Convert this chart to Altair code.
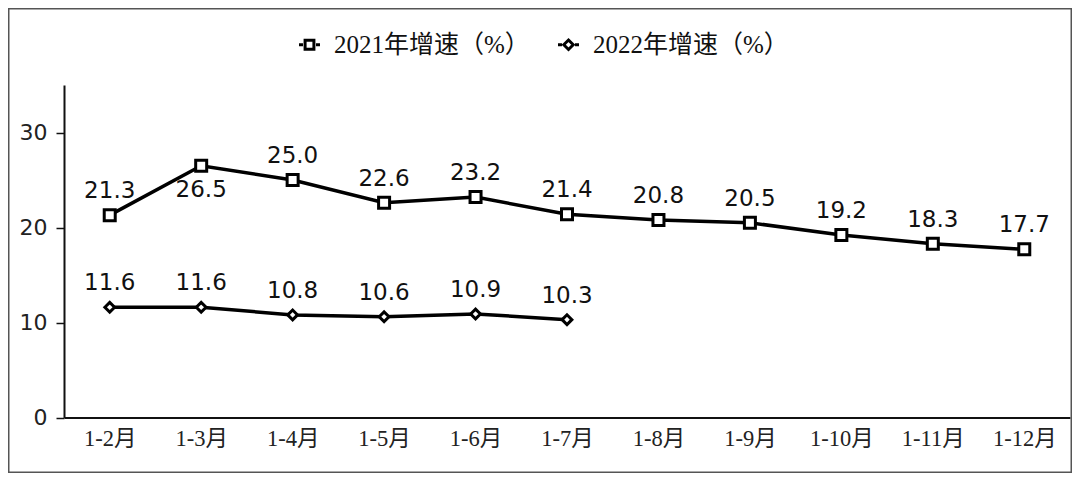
import altair as alt
import pandas as pd

months = ["1-2月", "1-3月", "1-4月", "1-5月", "1-6月", "1-7月",
          "1-8月", "1-9月", "1-10月", "1-11月", "1-12月"]
v2021 = [21.3, 26.5, 25.0, 22.6, 23.2, 21.4, 20.8, 20.5, 19.2, 18.3, 17.7]
v2022 = [11.6, 11.6, 10.8, 10.6, 10.9, 10.3]
series_names = ["2021年增速（%）", "2022年增速（%）"]
below_label_2021 = ["1-3月"]

d21 = pd.DataFrame({"month": months, "value": v2021, "series": series_names[0]})
d22 = pd.DataFrame({"month": months[:len(v2022)], "value": v2022, "series": series_names[1]})
d21["below"] = d21["month"].isin(below_label_2021)
d22["below"] = False
df = pd.concat([d21, d22], ignore_index=True)

W, H = 1006, 332.5
PAD_L, PAD_T = 56, 77
TOTAL_W, TOTAL_H = 1064, 465

num_font = "DejaVu Sans"
serif_font = "Liberation Serif, Noto Sans CJK SC"

x_enc = alt.X("month:N", sort=months,
              scale=alt.Scale(domain=months, paddingInner=0, paddingOuter=0),
              axis=alt.Axis(title=None, ticks=False, labelAngle=0, labelFont=serif_font,
                            labelFontSize=22.5, labelColor="#222", labelPadding=10,
                            domainColor="#111", domainWidth=2))
y_enc = alt.Y("value:Q", scale=alt.Scale(domain=[0, 35], nice=False),
              axis=alt.Axis(title=None, values=[0, 10, 20, 30], grid=False,
                            tickSize=8, tickColor="#111", tickWidth=1.5,
                            labelFont=num_font, labelFontSize=22, labelColor="#222",
                            labelPadding=9, domainColor="#111", domainWidth=2))

base = alt.Chart(df).encode(x=x_enc, y=y_enc)

lines = base.mark_line(color="black", strokeWidth=3.5).encode(detail="series:N")

pts21 = base.transform_filter(alt.datum.series == series_names[0]).mark_point(
    shape="square", size=121, filled=False, fill="white", fillOpacity=1,
    stroke="black", strokeWidth=3, opacity=1)
pts22 = base.transform_filter(alt.datum.series == series_names[1]).mark_point(
    shape="diamond", size=95, filled=False, fill="white", fillOpacity=1,
    stroke="black", strokeWidth=3, opacity=1)

labels_above = base.transform_filter("!datum.below").mark_text(
    font=num_font, fontSize=23, color="#111", dy=-24, baseline="middle").encode(
    text=alt.Text("value:Q", format=".1f"))
labels_below = base.transform_filter("datum.below").mark_text(
    font=num_font, fontSize=23, color="#111", dy=24, baseline="middle").encode(
    text=alt.Text("value:Q", format=".1f"))

sq_path = "M-1,0H-0.62M0.62,0H1M-0.42,-0.42H0.42V0.42H-0.42Z"
dm_path = "M-1,0H-0.62M0.62,0H1M0,-0.45L0.45,0L0,0.45L-0.45,0Z"

legend_layer = base.transform_filter("datum.value > 1000").mark_point(
    filled=False, stroke="black", strokeWidth=3).encode(
    shape=alt.Shape("series:N",
                    scale=alt.Scale(domain=series_names, range=[sq_path, dm_path]),
                    legend=alt.Legend(title=None, orient="none", direction="horizontal",
                                      legendX=233, legendY=-53,
                                      symbolSize=441, symbolStrokeWidth=3,
                                      symbolStrokeColor="black", symbolFillColor="white",
                                      symbolOpacity=1, labelFont=serif_font,
                                      labelFontSize=25, labelColor="#111",
                                      labelOffset=12, columnPadding=22,
                                      labelLimit=400)))

border = alt.Chart(pd.DataFrame({"b": [0]})).mark_rect(
    fill=None, stroke="#555", strokeWidth=1.5, clip=False).encode(
    x=alt.value(-PAD_L + 0.75), x2=alt.value(TOTAL_W - PAD_L - 0.75),
    y=alt.value(-PAD_T + 0.75), y2=alt.value(TOTAL_H - PAD_T - 0.75))

chart = alt.layer(border, lines, pts21, pts22, labels_above, labels_below, legend_layer).properties(
    width=W, height=H,
    autosize=alt.AutoSizeParams(type="none"),
    padding={"left": PAD_L, "top": PAD_T, "right": TOTAL_W - PAD_L - W,
             "bottom": TOTAL_H - PAD_T - H},
    background="white",
).configure_view(stroke=None)

chart.save("out.html", embed_options={"renderer": "svg", "actions": False})
